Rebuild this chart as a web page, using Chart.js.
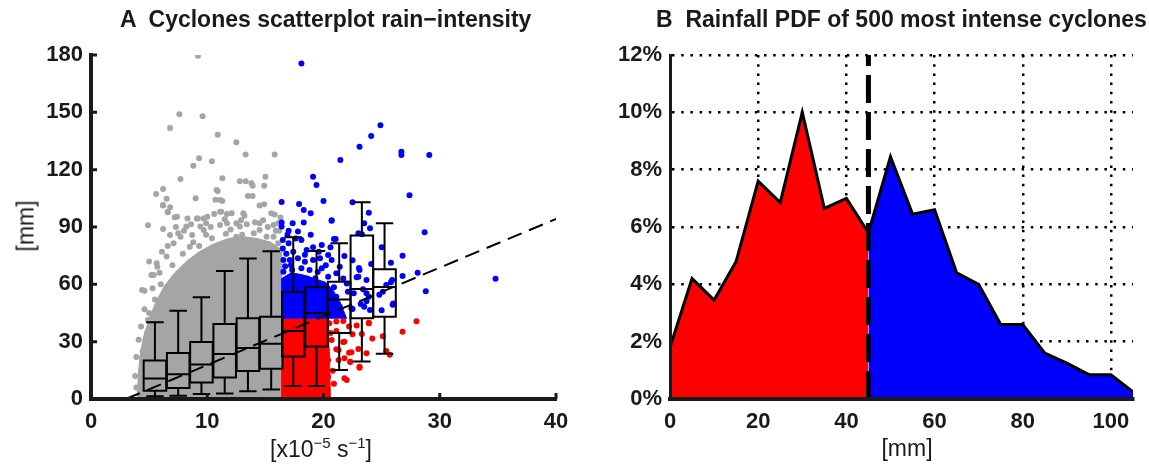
<!DOCTYPE html>
<html>
<head>
<meta charset="utf-8">
<script src="https://cdn.jsdelivr.net/npm/chart.js@4.4.1/dist/chart.umd.min.js"></script>
<style>
  body { margin: 0; background: #fff; width: 1149px; height: 467px; overflow: hidden; position: relative;
         font-family: 'Liberation Sans', Arial, sans-serif; color: #1a1a1a; }
  .panel { position: absolute; top: 0; }
  .panel canvas { display: block; }
  .txt { position: absolute; white-space: pre; line-height: 1; }
  .txt sup { font-size: 15px; vertical-align: 9px; line-height: 0; }
</style>
</head>
<body>
<div class="panel" style="left:0"><canvas id="chartA" width="580" height="467"></canvas></div>
<div class="panel" style="left:580px"><canvas id="chartB" width="569" height="467"></canvas></div>

<div class="txt" style="left:120px;top:8px;font-size:23px;font-weight:bold">A  Cyclones scatterplot rain−intensity</div>
<div class="txt" style="left:656px;top:8px;font-size:23px;font-weight:bold">B  Rainfall PDF of 500 most intense cyclones</div>
<div class="txt" style="left:26px;top:226px;font-size:23px;transform:translate(-50%,-50%) rotate(-90deg)">[mm]</div>
<div class="txt" style="left:321px;top:438px;font-size:23px;transform:translateX(-50%)">[x10<sup>−5</sup> s<sup>−1</sup>]</div>
<div class="txt" style="left:907px;top:437px;font-size:23px;transform:translateX(-50%)">[mm]</div>

<script>
// ---- panel A: scatter of intensity vs rain ----
// sparse points, [x, y]
const greyPoints = [
  [9.2,179.6],[7.6,149],[9.6,148],[6.8,141.8],[10.9,138.3],[12.5,134.3],[13.3,128],[15.8,128],
  [9.3,126],[10.4,124.4],[8.8,122],[7.7,115.1],[11.3,115.5],[12.8,114],[13.3,114],[15.0,116.3],
  [13.9,111.6],[14.9,111.6],[6.2,109.9],[5.6,107.3],[10.9,108.8],[6.5,104.8],[9.0,105],[10.7,104.3],
  [11.3,103.6],[13.9,106.2],[6.2,101.2],[6.8,100.3],[14.5,101.2],[6.6,97.7],[7.2,95.1],[8.3,94.5],
  [9.2,94.5],[9.7,94.5],[10.6,96.8],[11.2,98],[11.7,96.8],[13.2,95.9],[15.8,96.6],[4.9,90.9],
  [6.2,101.5],[6.6,98],[7.4,95.4],[10.8,109.4],[11.1,104.1],[13.5,106.2],[13.8,112.9],[14.9,101.9],
  [15.5,97.2],[15.7,91],[14.5,91.9],[13.1,97.2],[12.1,97.2],[11.1,98],[10.0,95.4],[9.1,94.5],
  [8.2,90.2],[6.8,85.8],[6.1,77.1],[5.7,69.2],[7.7,84.9],[9.7,88.4],[11.7,91.9],[12.8,90.2],
  [14.0,86.7],[15.1,84.9],[16.1,81.5],[4.4,57],[5.2,64.9],[6.5,74.5],[8.5,79.7],[10.4,84.1],
  [12.5,84.9],[14.5,79.7],[4.6,56.7],[4.45,24.8],[5.4,64.9],[5.65,71],[7.1,81.5],[7.5,86.7],
  [8.7,85.8],[9.4,90.2],[11.1,91],[12.5,91.9],[14.5,88.4],[15.7,84.9],[16.0,74.5],[6.8,58.8],
  [6.4,50.1],[4.9,41.3],[4.8,34.4],[5.1,27.4],[4.8,18.7],[4.65,9.9],[7.0,70],[7.9,76],
  [8.8,82],[9.9,86],[10.9,80],[11.6,86.5],[12.2,79],[13.0,86],[13.6,82.5],[14.2,75],
  [15.3,78],[16.2,70],[8.0,88],[9.3,80],[10.3,90],[12.0,88.7],[13.4,91.5],[14.8,93.5],
  [15.9,88],[6.0,60],[5.5,52],[5.0,45],[4.3,15],[4.2,4],[3.9,6],[16.3,95],[16.2,88],[16.0,78],
  [3.8,12],[3.9,22],[4.1,31],[4.3,38],[4.6,47],[5.3,58],[5.9,66],[6.6,80],[7.3,90],[8.6,91.5],
  [9.9,92],[11.5,94],[12.9,93.5],[14.1,92.5],[15.2,90],[16.1,92],[5.0,72],[6.2,89]
];
const bluePoints = [
  [18.1,175.6],[24.9,143.2],[24.1,137.6],[23.1,132],[21.45,125],[26.7,129.4],[26.7,127.7],[29.1,127.7],
  [27.4,106.6],[22.5,102.9],[23.9,97.5],[23.5,91.9],[24.0,89.3],[20.7,93.5],[28.7,87.2],[20.9,83.7],
  [25.0,79.4],[21.8,74.8],[26.8,75],[25.8,71.3],[22.5,72.6],[23.05,68.6],[24.1,70.6],[28.1,66.1],
  [26.8,64.4],[22.85,63.7],[25.8,61.1],[34.8,62.9],[28.8,56.4],[25.4,59.7],[24.8,54.6],[25.95,49.3],
  [25.0,46.4],[23.2,49.7],[23.7,51.1],[22.6,55.3],[23.4,57.4],[23.7,55.3],[24.0,46.6],[22.5,47.1],
  [23.0,86.7],[23.3,86.2],[19.1,116.3],[19.4,112],[16.4,103.1],[17.9,102],[18.3,98.9],[18.9,97.2],
  [20.0,103.6],[20.7,93.3],[16.4,92.3],[16.4,90.2],[17.35,91.9],[18.3,92.3],[17.0,88.1],[17.8,87.6],
  [21.05,83.7],[20.6,79.4],[19.85,80.6],[19.1,79.4],[18.55,78],[18.1,83.2],[16.5,83.2],[16.5,78.8],
  [17.0,81.5],[17.4,77.1],[16.55,72.7],[17.1,72.7],[17.8,73.6],[18.4,71.8],[19.1,72.7],[19.7,73.6],
  [20.4,75.4],[20.7,72.7],[21.4,69.2],[21.1,65.8],[19.85,68.4],[18.8,67.5],[18.1,68.4],[17.3,67.5],
  [16.55,66.6],[17.7,64],[19.3,63.2],[22.0,60.5],[22.1,56.1],[23.1,67.5],[23.0,64],[23.7,62.3],
  [23.9,53.5],[23.5,48.3],[22.4,47.5],[21.4,48.3],[21.1,53.5],[20.7,51.8],[20.0,47.5],[26.0,50],
  [25.1,56.1],[25.9,62.3],[16.9,86],[17.6,84],[18.9,86],[19.6,77],[20.2,70],[17.2,70],
  [18.4,75.5],[16.8,76],[19.5,66.5],[20.4,64],[21.7,63],[18.6,63],[16.7,69.5],[20.9,58.5]
];
const redPoints = [
  [28.0,40.7],[26.8,35.2],[25.1,32.8],[24.2,31.6],[25.4,25.1],[23.1,16.4],[22.3,19.5],[23.9,39.9],
  [22.85,38.4],[22.5,33.9],[21.7,29.8],[22.2,24.2],[21.8,21.3],[21.1,40.5],[21.8,10.8],[23.1,16.9],
  [22.4,24.4],[22.3,19.4],[19.9,14.5],[20.8,14.8],[21.3,20.4],[21.3,25.6],[22.2,38],[23.9,39.6],
  [23.3,34],[23.7,23.9],[23.0,26.2],[21.8,30],[20.7,30.9],[21.1,35.6],[20.5,39.6],[21.7,40.8],
  [21.1,26],[20.4,20.4],[20.4,11.7],[19.4,6.4],[19.7,3],[25.7,23.2],[22.0,10.0],[19.0,1.5],
  [18.5,2.5],[17.2,1.2],[20.0,1.5],[20.9,8],[20.3,5.5],[20.6,34.5]
];
// outlines (x increasing) of the areas where the dots merge into a solid patch
const greyCore = [
  [4.0,0],[4.05,10],[4.2,22],[4.5,32],[5.0,42],[5.6,51],[6.3,59],[7.2,66],[8.2,72],[9.3,77],
  [10.5,81],[11.8,84],[13.0,85],[14.3,84],[15.5,82],[16.35,78],[16.4,0]
];
const redCore = [[16.38,0],[16.4,42],[20.3,42],[20.5,25],[20.6,0]];
const blueCore = [[16.38,42],[16.4,63],[17.2,66],[18.2,65],[19.2,63],[20.2,61],[20.8,57],[21.4,51],[21.8,45],[22.0,42]];

// box plots per intensity bin
const boxCenters = [5.5, 7.5, 9.5, 11.5, 13.5, 15.5, 17.4, 19.4, 21.35, 23.3, 25.25];
const boxLow     = [1.4, 1.7, 2.6, 2.9, 4.0, 5.0, 6.8, 6.8, 15.2, 19.6, 23.7];
const boxQ1      = [4.3, 5.7, 8.6, 11.2, 14.6, 15.8, 22.3, 27.5, 34.6, 42.3, 43.1];
const boxMedian  = [10.7, 12.9, 18.1, 23.6, 26.7, 28.9, 35.6, 45, 52, 57.5, 58.6];
const boxQ3      = [20.2, 24.1, 29.8, 39.3, 42.2, 43.1, 56, 58.5, 61.4, 85.5, 67.9];
const boxHigh    = [40.1, 46.2, 53.2, 67.0, 73.5, 77.3, 84.6, 77.5, 81.5, 103, 92];
const filledBoxes = 6;

// linear fit
const fitX = [3, 40];
const fitY = [0, 94.2];

// ---- panel B: rainfall PDF ----
const pdfX = [0, 5, 10, 15, 20, 25, 30, 35, 40, 45, 50, 55, 60, 65, 70, 75, 80, 85, 90, 95, 100, 105];
const pdfY = [1.8, 4.2, 3.45, 4.8, 7.6, 6.85, 10.0, 6.65, 7.0, 5.8, 8.45, 6.45, 6.6, 4.4, 4.0, 2.6, 2.6, 1.6, 1.25, 0.85, 0.85, 0.25];
const threshold = 45;

const GREY = '#a5a5a5';
const RED = '#ff0000';
const BLUE = '#0000ff';
const INK = '#1a1a1a';
const TICK_FONT = { family: "'Liberation Sans', Arial, sans-serif", size: 22, weight: 'bold' };

// plot area in canvas pixels (both panels share top/bottom)
const AREA_TOP = 55;
const AREA_BOTTOM = 399;
const CANVAS_H = 467;

const toXY = pts => pts.map(p => ({ x: p[0], y: p[1] }));

function dots(pts, color) {
  return {
    data: toXY(pts), showLine: false, fill: false,
    pointRadius: 3, pointHoverRadius: 0, pointBorderWidth: 0,
    pointBackgroundColor: color, borderColor: color,
  };
}

function patch(pts, color, fill) {
  return {
    data: toXY(pts), fill, backgroundColor: color,
    borderColor: color, borderWidth: 1, pointRadius: 0, tension: 0,
  };
}

function axisScale(extra) {
  return {
    type: 'linear',
    grid: { display: false, drawTicks: false },
    border: { display: true, color: INK, width: 4, z: 1 },
    ...extra,
    ticks: { color: INK, font: TICK_FONT, maxRotation: 0, ...extra.ticks },
  };
}

// boxes go on top of the dots but under the fit line (dataset 0)
const boxPlugin = {
  id: 'boxPlot',
  afterDatasetDraw(chart, args) {
    if (args.index !== 1) return;
    const { ctx, scales: { x, y } } = chart;
    ctx.save();
    ctx.lineWidth = 2;
    ctx.strokeStyle = '#000';
    boxCenters.forEach((c, i) => {
      const left = x.getPixelForValue(c - 0.97);
      const right = x.getPixelForValue(c + 0.97);
      const capL = x.getPixelForValue(c - 0.75);
      const capR = x.getPixelForValue(c + 0.75);
      const mid = x.getPixelForValue(c);
      const yLo = y.getPixelForValue(boxLow[i]);
      const yQ1 = y.getPixelForValue(boxQ1[i]);
      const yMed = y.getPixelForValue(boxMedian[i]);
      const yQ3 = y.getPixelForValue(boxQ3[i]);
      const yHi = y.getPixelForValue(boxHigh[i]);
      if (i < filledBoxes) {
        ctx.fillStyle = GREY;
        ctx.fillRect(left, yQ3, right - left, yQ1 - yQ3);
      }
      ctx.beginPath();
      ctx.rect(left, yQ3, right - left, yQ1 - yQ3);
      ctx.moveTo(left, yMed); ctx.lineTo(right, yMed);
      ctx.moveTo(mid, yQ3); ctx.lineTo(mid, yHi);
      ctx.moveTo(capL, yHi); ctx.lineTo(capR, yHi);
      ctx.moveTo(mid, yQ1); ctx.lineTo(mid, yLo);
      ctx.moveTo(capL, yLo); ctx.lineTo(capR, yLo);
      ctx.stroke();
    });
    ctx.restore();
  },
  afterDraw(chart) {
    // small inward tick marks on both axes
    const { ctx, chartArea: a, scales: { x, y } } = chart;
    ctx.save();
    ctx.strokeStyle = INK;
    ctx.lineWidth = 3;
    ctx.beginPath();
    y.ticks.forEach(t => {
      if (t.value === 0) return;
      const py = y.getPixelForValue(t.value);
      ctx.moveTo(a.left, py); ctx.lineTo(a.left + 6, py);
    });
    x.ticks.forEach(t => {
      if (t.value === 0) return;
      const px = x.getPixelForValue(t.value);
      ctx.moveTo(px, a.bottom); ctx.lineTo(px, a.bottom - 6);
    });
    ctx.stroke();
    ctx.restore();
  },
};

new Chart(document.getElementById('chartA'), {
  type: 'line',
  data: {
    datasets: [
      { data: fitX.map((v, i) => ({ x: v, y: fitY[i] })), borderColor: '#000', borderWidth: 2,
        borderDash: [15, 8], pointRadius: 0, fill: false },
      dots(bluePoints, BLUE),
      dots(redPoints, RED),
      dots(greyPoints, GREY),
      patch(blueCore, BLUE, { value: 42 }),
      patch(redCore, RED, 'origin'),
      patch(greyCore, GREY, 'origin'),
    ],
  },
  options: {
    responsive: false,
    animation: false,
    events: [],
    layout: { padding: { top: AREA_TOP, right: 580 - 556, left: 0, bottom: 0 } },
    plugins: { legend: { display: false }, tooltip: { enabled: false } },
    scales: {
      x: axisScale({
        min: 0, max: 40,
        afterFit: s => { s.height = CANVAS_H - AREA_BOTTOM; },
        ticks: { stepSize: 10, padding: 10 },
      }),
      y: axisScale({
        min: 0, max: 180,
        afterFit: s => { s.width = 91; },
        ticks: { stepSize: 30, padding: 8 },
      }),
    },
  },
  plugins: [boxPlugin],
});

// ---- panel B ----
const pdfPts = pdfX.map((v, i) => ({ x: v, y: pdfY[i] }));

new Chart(document.getElementById('chartB'), {
  type: 'line',
  data: {
    datasets: [
      { data: [{ x: threshold, y: 0 }, { x: threshold, y: 12 }], borderColor: '#000', borderWidth: 5,
        borderDash: [28, 9], pointRadius: 0, fill: false },
      { data: pdfPts.filter(p => p.x <= threshold), borderColor: '#000', borderWidth: 3,
        backgroundColor: RED, fill: 'origin', pointRadius: 0, tension: 0 },
      { data: pdfPts.filter(p => p.x >= threshold), borderColor: '#000', borderWidth: 3,
        backgroundColor: BLUE, fill: 'origin', pointRadius: 0, tension: 0 },
    ],
  },
  options: {
    responsive: false,
    animation: false,
    events: [],
    layout: { padding: { top: AREA_TOP, right: 569 - 553, left: 0, bottom: 0 } },
    plugins: { legend: { display: false }, tooltip: { enabled: false } },
    scales: {
      x: axisScale({
        min: 0, max: 105,
        afterFit: s => { s.height = CANVAS_H - AREA_BOTTOM; },
        grid: { display: true, drawTicks: false, color: '#000', lineWidth: 2.5 },
        border: { display: true, color: INK, width: 4, z: 1, dash: [2.5, 6.7] },
        ticks: { stepSize: 20, padding: 10, includeBounds: false },
      }),
      y: axisScale({
        min: 0, max: 12,
        afterFit: s => { s.width = 90; },
        grid: { display: true, drawTicks: false, color: '#000', lineWidth: 2.5 },
        border: { display: true, color: INK, width: 3, z: 1, dash: [2.5, 6.7] },
        ticks: { stepSize: 2, padding: 8, callback: v => v + '%' },
      }),
    },
  },
});
</script>
</body>
</html>
